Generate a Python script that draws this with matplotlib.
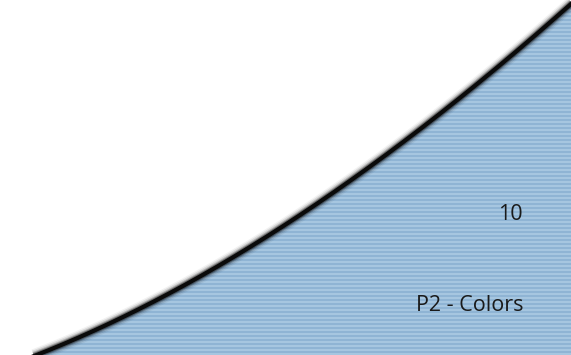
import numpy as np
import matplotlib.pyplot as plt
from matplotlib.patches import Polygon

xs = [38, 150, 270, 350, 380, 480, 505, 571]
ys = [0, 53, 120, 173, 195, 275, 295, 350]
value_label = "10"
series_label = "P2 - Colors"

W, H = 571, 355
fig = plt.figure(figsize=(W / 100, H / 100), dpi=100)
ax = fig.add_axes([0, 0, 1, 1])
ax.set_xlim(0, W)
ax.set_ylim(0, H)
ax.axis("off")

# smooth curve through the read points
c = np.polyfit(xs, ys, 3)
xx = np.linspace(10, 590, 500)
yy = np.polyval(c, xx)

# striped fill under the curve
rows = np.arange(H)
stripe = ((rows // 2) % 2).reshape(-1, 1, 1)
light = np.array([0xa6, 0xc6, 0xe0]) / 255
dark = np.array([0x8f, 0xb4, 0xd4]) / 255
img = np.where(stripe == 0, light, dark) * np.ones((H, 2, 3))
poly = Polygon(np.column_stack([np.r_[xx, W + 30, xx[0]],
                                np.r_[yy, -30, -30]]),
               closed=True, facecolor="none", edgecolor="none")
ax.add_patch(poly)
im = ax.imshow(img, extent=[0, W, 0, H], aspect="auto", origin="lower",
               interpolation="nearest")
im.set_clip_path(poly)

# blurred shadow + line
for lw, a in [(10, 0.05), (8, 0.1), (6, 0.2), (4.5, 0.35)]:
    ax.plot(xx, yy, color="black", lw=lw, alpha=a, solid_capstyle="butt")
ax.plot(xx, yy, color="#0a0a0a", lw=3)

ax.text(523, 135, value_label, fontsize=15.5, family="Open Sans",
        color="#1a1a1a", ha="right", va="baseline")
ax.text(523, 44, series_label, fontsize=15.5, family="Open Sans",
        color="#1a1a1a", ha="right", va="baseline")

fig.savefig("out.png", dpi=100)
